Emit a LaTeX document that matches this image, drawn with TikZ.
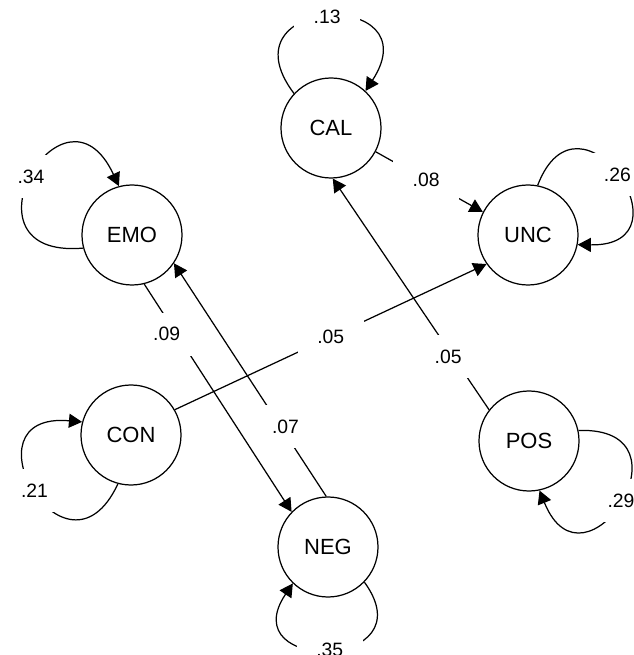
\documentclass[tikz,border=0pt]{standalone}
\usepackage{fontspec}
\setmainfont{Liberation Sans}
\usetikzlibrary{arrows.meta}

\begin{document}
\begin{tikzpicture}[>={Triangle[length=7.5pt,width=8pt]},
				line width=0.7pt,
				var/.style={draw, circle, minimum size=2cm, inner sep=0pt, font=\fontsize{12.5}{15}\selectfont},
				coef/.style={fill=white, minimum width=1.32cm, minimum height=0.86cm, inner sep=0pt, font=\fontsize{11}{13}\selectfont},
				selfloop/.style={->, looseness=#1},
				selfloop/.default=4.4]
				\useasboundingbox (0,0) rectangle (12.66,13.10);
				\node at (6.62,10.54) (cal) [var] {CAL};
				\node at (2.64,8.40) (emo) [var] {EMO};
				\node at (10.56,8.40) (unc) [var] {UNC};
				\node at (2.62,4.40) (con) [var] {CON};
				\node at (10.58,4.28) (pos) [var] {POS};
				\node at (6.56,2.16) (neg) [var] {NEG};
				% paths between the variables
				\draw[->] (cal.-28) -- node[coef, pos=0.47] {.08} (unc.153);
				\draw[->] (pos.142) -- node[coef, pos=0.23, xshift=-0.1cm] {.05} (cal.272);
				\draw[->] (con.30) -- node[coef, pos=0.5] {.05} (unc.215);
				\draw[->] (neg.92) -- node[coef, pos=0.3, xshift=0.1cm] {.07} (emo.-34);
				\draw[->] (emo.-76) -- node[coef, pos=0.22, xshift=-0.2cm] {.09} (neg.136);
				% stability loops
				\draw[selfloop] (cal.137) to[out=127, in=57] node[coef] {.13} (cal.47);
				\draw[selfloop=4.7] (emo.195) to[out=185, in=115] node[coef] {.34} (emo.105);
				\draw[selfloop=4.2] (unc.79) to[out=69, in=-1] node[coef] {.26} (unc.-11);
				\draw[selfloop] (con.255) to[out=245, in=175] node[coef] {.21} (con.165);
				\draw[selfloop=4.3] (pos.12) to[out=2, in=-68] node[coef] {.29} (pos.-78);
				\draw[selfloop=3.9] (neg.316) to[out=306, in=236] node[coef] {.35} (neg.226);
			\end{tikzpicture}
\end{document}
